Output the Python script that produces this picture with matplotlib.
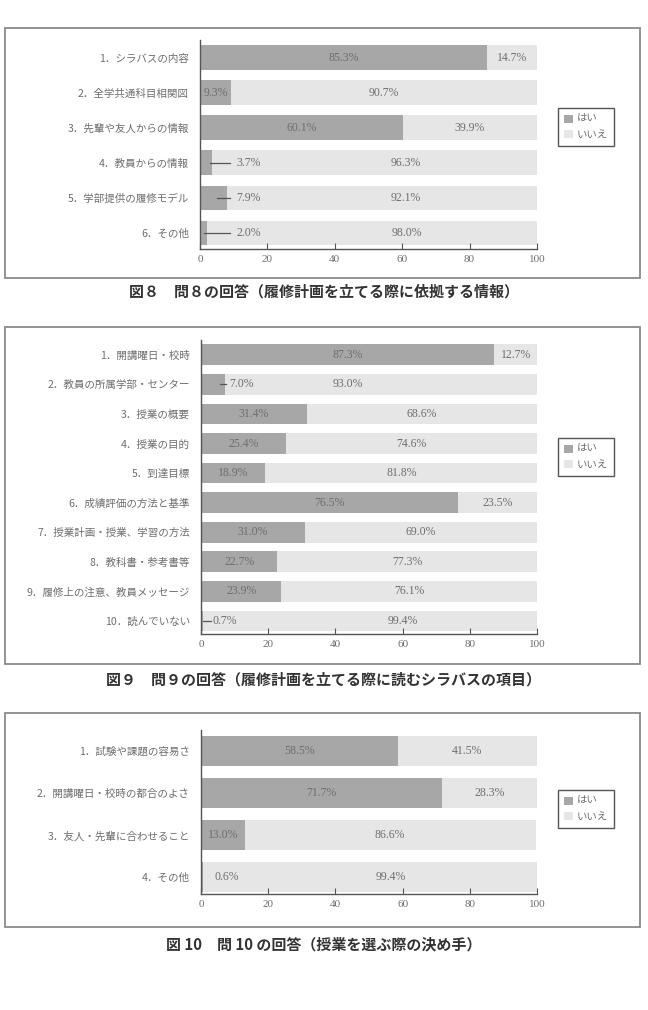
import matplotlib.pyplot as plt
from matplotlib.patches import Rectangle, Patch

plt.rcParams['font.family'] = ['Noto Sans CJK JP', 'DejaVu Sans']

W, H = 648, 1010

# 図8 問8
q8_labels = ['1．シラバスの内容', '2．全学共通科目相関図', '3．先輩や友人からの情報',
             '4．教員からの情報', '5．学部提供の履修モデル', '6．その他']
q8_yes = [85.3, 9.3, 60.1, 3.7, 7.9, 2.0]
q8_no = [14.7, 90.7, 39.9, 96.3, 92.1, 98.0]
q8_caption = '図８　問８の回答（履修計画を立てる際に依拠する情報）'

# 図9 問9
q9_labels = ['1．開講曜日・校時', '2．教員の所属学部・センター', '3．授業の概要',
             '4．授業の目的', '5．到達目標', '6．成績評価の方法と基準',
             '7．授業計画・授業、学習の方法', '8．教科書・参考書等',
             '9．履修上の注意、教員メッセージ', '10．読んでいない']
q9_yes = [87.3, 7.0, 31.4, 25.4, 18.9, 76.5, 31.0, 22.7, 23.9, 0.7]
q9_no = [12.7, 93.0, 68.6, 74.6, 81.8, 23.5, 69.0, 77.3, 76.1, 99.4]
q9_caption = '図９　問９の回答（履修計画を立てる際に読むシラバスの項目）'

# 図10 問10
q10_labels = ['1．試験や課題の容易さ', '2．開講曜日・校時の都合のよさ',
              '3．友人・先輩に合わせること', '4．その他']
q10_yes = [58.5, 71.7, 13.0, 0.6]
q10_no = [41.5, 28.3, 86.6, 99.4]
q10_caption = '図 10　問 10 の回答（授業を選ぶ際の決め手）'

legend_labels = ['はい', 'いいえ']

YES_C = '#a7a7a7'
NO_C = '#e6e6e6'
TXT = '#6e6e6e'
NUM_FONT = ['Liberation Serif', 'DejaVu Serif']


def rect(x0, y0, x1, y1):
    # pixel box (top origin) -> figure fraction
    return [x0 / W, 1 - y1 / H, (x1 - x0) / W, (y1 - y0) / H]


def panel(fig, box, ax_box, ybot, labels, yes, no, outside, no_pos, leg_y, caption, cap_y):
    fig.patches.append(Rectangle((box[0] / W, 1 - box[3] / H), (box[2] - box[0]) / W,
                                 (box[3] - box[1]) / H, transform=fig.transFigure,
                                 fill=False, edgecolor='#8a8a8a', linewidth=1.3))
    ax = fig.add_axes(rect(*ax_box))
    n = len(labels)
    rows = list(range(n))
    ax.barh(rows, yes, height=0.7, color=YES_C)
    ax.barh(rows, no, left=yes, height=0.7, color=NO_C)
    ax.set_xlim(0, 100)
    ax.set_ylim(ybot, -0.5)
    ax.set_xticks(range(0, 101, 20))
    ax.set_yticks(rows)
    ax.set_yticklabels(labels)
    ax.tick_params(axis='y', length=0, pad=8, labelsize=7.6, labelcolor=TXT)
    ax.tick_params(axis='x', direction='in', length=4, color='#555555', pad=4,
                   labelsize=8, labelcolor=TXT)
    for t in ax.get_xticklabels():
        t.set_fontfamily(NUM_FONT)
    for s in ['top', 'right']:
        ax.spines[s].set_visible(False)
    for s in ['left', 'bottom']:
        ax.spines[s].set_color('#555555')
        ax.spines[s].set_linewidth(1.0)

    for i in rows:
        if i in outside:
            lx0, lx1, tx = outside[i]
            if lx0 is not None:
                ax.plot([lx0, lx1], [i, i], color='#555555', lw=0.9)
            ax.text(tx, i, f'{yes[i]:.1f}%', ha='left', va='center', fontsize=8.5,
                    color=TXT, family=NUM_FONT)
        else:
            ax.text(yes[i] / 2, i, f'{yes[i]:.1f}%', ha='center', va='center',
                    fontsize=8.5, color=TXT, family=NUM_FONT)
        nx = no_pos.get(i, yes[i] + no[i] / 2)
        ax.text(nx, i, f'{no[i]:.1f}%', ha='center', va='center', fontsize=8.5,
                color=TXT, family=NUM_FONT)

    handles = [Patch(facecolor=YES_C), Patch(facecolor=NO_C)]
    fig.legend(handles, legend_labels, loc='upper left',
               bbox_to_anchor=(558 / W, 1 - leg_y / H), frameon=True, fancybox=False,
               edgecolor='#555555', framealpha=1, fontsize=7.5, labelcolor=TXT,
               handlelength=0.8, handleheight=0.8, handletextpad=0.4,
               borderpad=0.6, labelspacing=0.55, borderaxespad=0)
    fig.text(0.5, 1 - cap_y / H, caption, ha='center', va='center', fontsize=10.8,
             fontweight='bold', color='#333333')
    return ax


fig = plt.figure(figsize=(W / 100, H / 100), dpi=100)

panel(fig, (5, 28, 640, 278), (200, 40, 537, 249), 5.46,
      q8_labels, q8_yes, q8_no,
      {3: (2.9, 8.8, 10.8), 4: (5.0, 8.8, 10.8), 5: (1.2, 8.8, 10.8)},
      {3: 61.0, 4: 61.0, 5: 61.4}, 108, q8_caption, 292)

panel(fig, (5, 327, 640, 664), (201, 340, 537, 634), 9.44,
      q9_labels, q9_yes, q9_no,
      {1: (5.6, 7.5, 8.3), 9: (0.6, 3.0, 3.4)},
      {1: 43.6, 9: 60.0}, 438, q9_caption, 679)

panel(fig, (5, 713, 640, 927), (201, 730, 537, 894), 3.4,
      q10_labels, q10_yes, q10_no,
      {3: (None, None, 4.1)},
      {3: 56.4}, 790, q10_caption, 944)

fig.savefig('out.png', dpi=100)
